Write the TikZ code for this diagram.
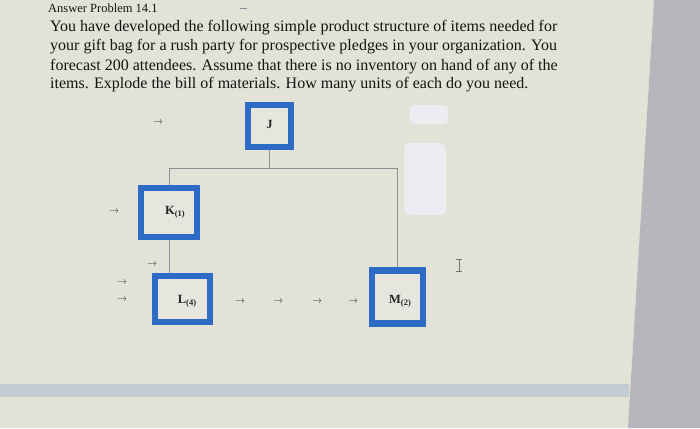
\documentclass[tikz,border=0pt]{standalone}
\usepackage{fontspec}
\setmainfont{Liberation Serif}
\newcommand{\bomsub}[1]{{\fontsize{8.5}{9}\selectfont\raisebox{-2.2pt}{(#1)}}}
\begin{document}
\begin{tikzpicture}[x=1pt,y=-1pt,
  bom/.style={draw=bomblue, line width=6.5pt, fill=boxin, inner sep=0pt},
  lbl/.style={inner sep=0pt, text=black!85, font=\bfseries\fontsize{12.5}{13}\selectfont},
  conn/.style={draw=conngray, line width=0.9pt},
  arr/.style={text=arrgray, inner sep=0pt, font=\fontsize{10}{10}\selectfont},
  para/.style={anchor=base west, inner sep=0pt, text=black!92, font=\fontsize{16}{18}\selectfont}
]
\definecolor{bg}{HTML}{E3E2D6}
\definecolor{boxin}{HTML}{E6E6DE}
\definecolor{bomblue}{HTML}{2E6BC6}
\definecolor{conngray}{HTML}{8C9096}
\definecolor{arrgray}{HTML}{2E2E2E}
\definecolor{sidegray}{HTML}{B5B7BC}
\definecolor{bandblue}{HTML}{C3CCD0}
\definecolor{glare}{HTML}{ECEDF3}
% background
\fill[bg] (0,0) rectangle (700,428);
\useasboundingbox (0,0) rectangle (700,428);
\fill[sidegray] (654,0) -- (628,428) -- (700,428) -- (700,0) -- cycle;
\fill[bandblue] (0,384) rectangle (629,397);
% glare patches
\fill[glare, rounded corners=4pt] (410,105) rectangle (448,124);
\fill[glare, rounded corners=6pt] (404,143) rectangle (446,215);
% small marks
\draw[conngray, line width=0.8pt] (240,8) -- (247,8);
% text
\node[anchor=base west, inner sep=0pt, text=black!92, font=\fontsize{12.5}{14}\selectfont] (title) at (48,13) {Answer Problem 14.1};
\node[para] (l1) at (50,32) {You have developed the following simple product structure of items needed for};
\node[para] (l2) at (50,51) {your gift bag for a rush party for prospective pledges in your organization. You};
\node[para] (l3) at (50,70) {forecast 200 attendees. Assume that there is no inventory on hand of any of the};
\node[para] (l4) at (50,88) {items. Explode the bill of materials. How many units of each do you need.};
% boxes
\node[bom, minimum width=43pt, minimum height=42pt] (J) at (269.5,126) {};
\node[bom, minimum width=56pt, minimum height=49pt] (K) at (169,212.5) {};
\node[bom, minimum width=55pt, minimum height=46pt] (L) at (182.5,299) {};
\node[bom, minimum width=51pt, minimum height=53pt] (M) at (397.5,297) {};
% labels
\node[lbl] (Jt) at (269.5,124) {J};
\node[lbl] (Kt) at (175,212) {K\bomsub{1}};
\node[lbl] (Lt) at (187,301) {L\bomsub{4}};
\node[lbl] (Mt) at (400,301) {M\bomsub{2}};
% connectors
\draw[conn] (J.south) -- ++(0,18) coordinate (hub);
\draw[conn] (K.north) |- (hub) -| (M.north);
\draw[conn] (K.south) -- (K.south |- L.north);
% arrows
\node[arr] (a1) at (158,123) {$\rightarrow$};
\node[arr] (a2) at (114,212) {$\rightarrow$};
\node[arr] (a3) at (152,265) {$\rightarrow$};
\node[arr] (a4) at (122,283) {$\rightarrow$};
\node[arr] (a5) at (122,300) {$\rightarrow$};
\node[arr] (a6) at (240,302) {$\rightarrow$};
\node[arr] (a7) at (278,302) {$\rightarrow$};
\node[arr] (a8) at (317,302) {$\rightarrow$};
\node[arr] (a9) at (353,302) {$\rightarrow$};
% I-beam cursor
\draw[conngray!80!black, line width=0.7pt] (459,259) -- (459,271) (456,259) -- (462,259) (456,271) -- (462,271);
\end{tikzpicture}
\end{document}
